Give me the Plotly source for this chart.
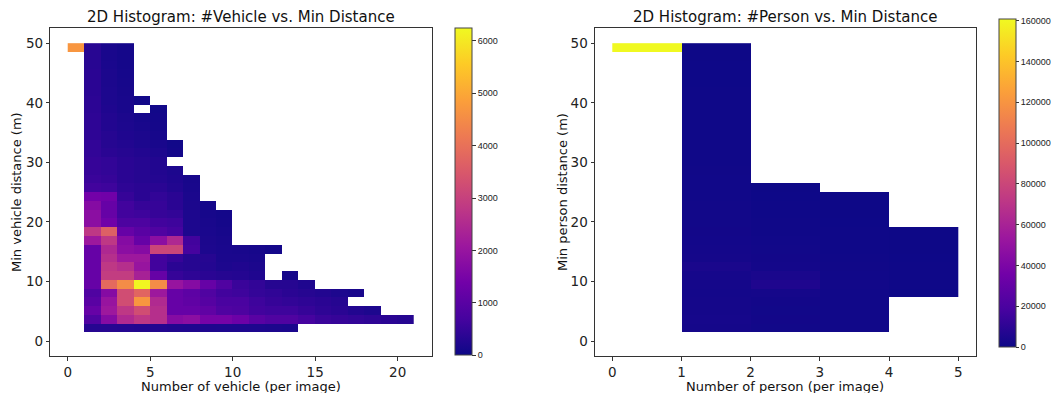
import plotly.graph_objects as go

# ---------------- data ----------------
N_YBINS = 34
Y_MAX = 50.0
y_edges = [Y_MAX * k / N_YBINS for k in range(N_YBINS + 1)]

# Vehicle histogram: one list per vehicle-count column (x bin [k, k+1]),
# values for distance bins 1..33 (bin 0 empty); None = empty cell
veh_c0 = [None] * 32 + [4700]
veh_c1 = [300, 850, 1200, 1000, 850, 1200, 1200, 1200, 1200, 1200, 2100, 2800, 1800, 1800, 1700,
          1400, 650, 550, 500, 500, 450, 450, 400, 400, 400, 380, 380, 350, 350, 350, 330, 330, 330]
veh_c2 = [300, 1700, 2100, 2000, 1700, 3850, 2900, 2800, 2600, 2450, 2800, 3650, 1350, 1200, 1200,
          1350, 600, 500, 450, 450, 350, 300, 300, 250, 250, 220, 200, 200, 180, 180, 160, 150, 150]
veh_c3 = [280, 2500, 2800, 3250, 3250, 4500, 2900, 2600, 2100, 1800, 1700, 1200, 800, 650, 650,
          500, 400, 350, 350, 350, 300, 250, 220, 200, 180, 150, 140, 130, 120, 110, 100, 100, 100]
veh_c4 = [260, 2800, 3250, 4700, 3750, 6200, 2300, 2000, 2100, 1700, 1200, 1000, 800, 600, 500,
          350, 350, 300, 300, 300, 250, 200, 180, 150, 120, None, 60]
veh_c5 = [250, 2600, 2600, 2500, 2100, 4500, 1200, 650, 650, 3100, 1800, 850, 650, 500, 500,
          450, 350, 280, 250, 250, 200, 150, 120, 100, 80, 60]
veh_c6 = [230, 1700, 1200, 1200, 1200, 2000, 500, 350, 500, 3100, 2450, 700, 600, 450, 350,
          350, 250, 220, 200, None, 80, 60]
veh_c7 = [220, 1800, 1200, 1100, 1050, 1700, 400, 300, 300, 700, 650, 200, 200, 200, 180, 170, 150, 130]
veh_c8 = [210, 1450, 1100, 950, 850, 1200, 350, 280, 300, 200, 180, 160, 150, 120, 100]
veh_c9 = [200, 1450, 850, 750, 650, 850, 300, 200, 170, 160, 150, 120, 100, 80]
veh_c10 = [190, 1300, 800, 750, 600, 550, 280, 230, 170, 140]
veh_c11 = [190, 1000, 650, 600, 480, 450, 220, 180, 150, 120]
veh_c12 = [180, 850, 600, 500, 420, 300, None, None, None, 80]
veh_c13 = [170, 850, 600, 450, 350, 300, 100]
veh_c14 = [None, 700, 500, 400, 300, 220]
veh_c15 = [None, 550, 400, 350, 250]
veh_c16 = [None, 500, 350, 300, 200]
veh_c17 = [None, 450, 250, None, 150]
veh_c18 = [None, 400, 200]
veh_c19 = [None, 350]
veh_c20 = [None, 300]
veh_x_edges = list(range(0, 22))
veh_columns = [veh_c0, veh_c1, veh_c2, veh_c3, veh_c4, veh_c5, veh_c6, veh_c7, veh_c8, veh_c9,
               veh_c10, veh_c11, veh_c12, veh_c13, veh_c14, veh_c15, veh_c16, veh_c17, veh_c18,
               veh_c19, veh_c20]
veh_zmax = 6243
veh_ticks = [0, 1000, 2000, 3000, 4000, 5000, 6000]

# Person histogram
per_c0 = [None] * 32 + [160800]
per_c1 = [2500, 2800, 2600, 2400, 2200, 2600, 2800, 4000, 2500, 2200, 2000, 1800, 1700, 1600, 1500,
          1400, 1300, 1200, 1100, 1000, 900, 800, 700, 700, 600, 600, 500, 500, 400, 400, 400, 300, 300]
per_c2 = [1500, 1800, 1700, 1800, 2500, 5500, 4000, 2200, 1800, 1500, 1200, 1000, 800, 600, 500, 400, 300]
per_c3 = [1200, 1400, 1300, 1200, 1200, 1500, 1300, 1100, 900, 700, 600, 500, 400, 300, 250, 200]
per_c4 = [None, None, None, None, 400, 600, 700, 500, 400, 300, 250, 200]
per_x_edges = list(range(0, 6))
per_columns = [per_c0, per_c1, per_c2, per_c3, per_c4]
per_zmax = 160800
per_ticks = [0, 20000, 40000, 60000, 80000, 100000, 120000, 140000, 160000]

x_ticks_left = [0, 5, 10, 15, 20]
x_ticks_right = [0, 1, 2, 3, 4, 5]
y_ticks = [0, 10, 20, 30, 40, 50]


def build_z(columns):
    ncol = len(columns)
    z = [[None] * ncol for _ in range(N_YBINS)]
    for c, col in enumerate(columns):
        for i, v in enumerate(col):
            z[i + 1][c] = v
    return z


# page body has an 8px margin: figure is placed at (8, 8); let it reach the window edges
OFF = 8
W, H = 1060 - OFF, 393 - OFF
FONT = "DejaVu Sans"
CB_FONT = "Liberation Sans"


def px_x(p):
    return (p - OFF) / W


def px_y(p):
    return 1 - (p - OFF) / H


fig = go.Figure()

fig.add_trace(go.Heatmap(
    x=veh_x_edges, y=y_edges, z=build_z(veh_columns),
    colorscale="Plasma", zmin=0, zmax=veh_zmax,
    xaxis="x", yaxis="y",
    colorbar=dict(
        x=px_x(455), xanchor="left", xpad=0, ypad=0,
        y=px_y((28.3 + 355) / 2), yanchor="middle",
        lenmode="pixels", len=327, thickness=17,
        tickvals=veh_ticks, tickformat="d", ticks="outside", ticklen=4, tickcolor="#333",
        tickfont=dict(family=CB_FONT, size=9, color="#222"),
        outlinewidth=1, outlinecolor="#444",
    ),
))

fig.add_trace(go.Heatmap(
    x=per_x_edges, y=y_edges, z=build_z(per_columns),
    colorscale="Plasma", zmin=0, zmax=per_zmax,
    xaxis="x2", yaxis="y2",
    colorbar=dict(
        x=px_x(999), xanchor="left", xpad=0, ypad=0,
        y=px_y((19 + 347) / 2), yanchor="middle",
        lenmode="pixels", len=328, thickness=17,
        tickvals=per_ticks, tickformat="d", ticks="outside", ticklen=3, tickcolor="#333",
        tickfont=dict(family=CB_FONT, size=9, color="#222"),
        outlinewidth=1, outlinecolor="#444",
    ),
))

axis_common = dict(
    showline=True, mirror=True, linecolor="#333", linewidth=1,
    ticks="outside", ticklen=3.5, tickcolor="#333",
    showgrid=False, zeroline=False,
    tickfont=dict(family=FONT, size=13.5, color="#222"),
)
ydom = [px_y(356), px_y(28.3)]

fig.update_layout(
    width=W, height=H,
    margin=dict(l=0, r=0, t=0, b=0),
    paper_bgcolor="white", plot_bgcolor="white",
    showlegend=False,
    xaxis=dict(domain=[px_x(50.4), px_x(431.5)], range=[-1.05, 22.05], anchor="y",
               tickvals=x_ticks_left, **axis_common),
    yaxis=dict(domain=ydom, range=[-2.5, 52.5], anchor="x",
               tickvals=y_ticks, **axis_common),
    xaxis2=dict(domain=[px_x(595), px_x(975.5)], range=[-0.25, 5.25], anchor="y2",
                tickvals=x_ticks_right, **axis_common),
    yaxis2=dict(domain=ydom, range=[-2.5, 52.5], anchor="x2",
                tickvals=y_ticks, **axis_common),
)

texts = [
    ("2D Histogram: #Vehicle vs. Min Distance", 241, 17, 0, 15),
    ("2D Histogram: #Person vs. Min Distance", 785, 17, 0, 15),
    ("Number of vehicle (per image)", 241, 386, 0, 13),
    ("Number of person (per image)", 785, 386, 0, 13),
    ("Min vehicle distance (m)", 17, 192, -90, 13),
    ("Min person distance (m)", 563, 192, -90, 13),
]
for t, x, y, ang, sz in texts:
    fig.add_annotation(text=t, x=px_x(x), y=px_y(y), xref="paper", yref="paper",
                       showarrow=False, textangle=ang, xanchor="center", yanchor="middle",
                       font=dict(family=FONT, size=sz, color="#111"))

fig.write_html("out.html")
